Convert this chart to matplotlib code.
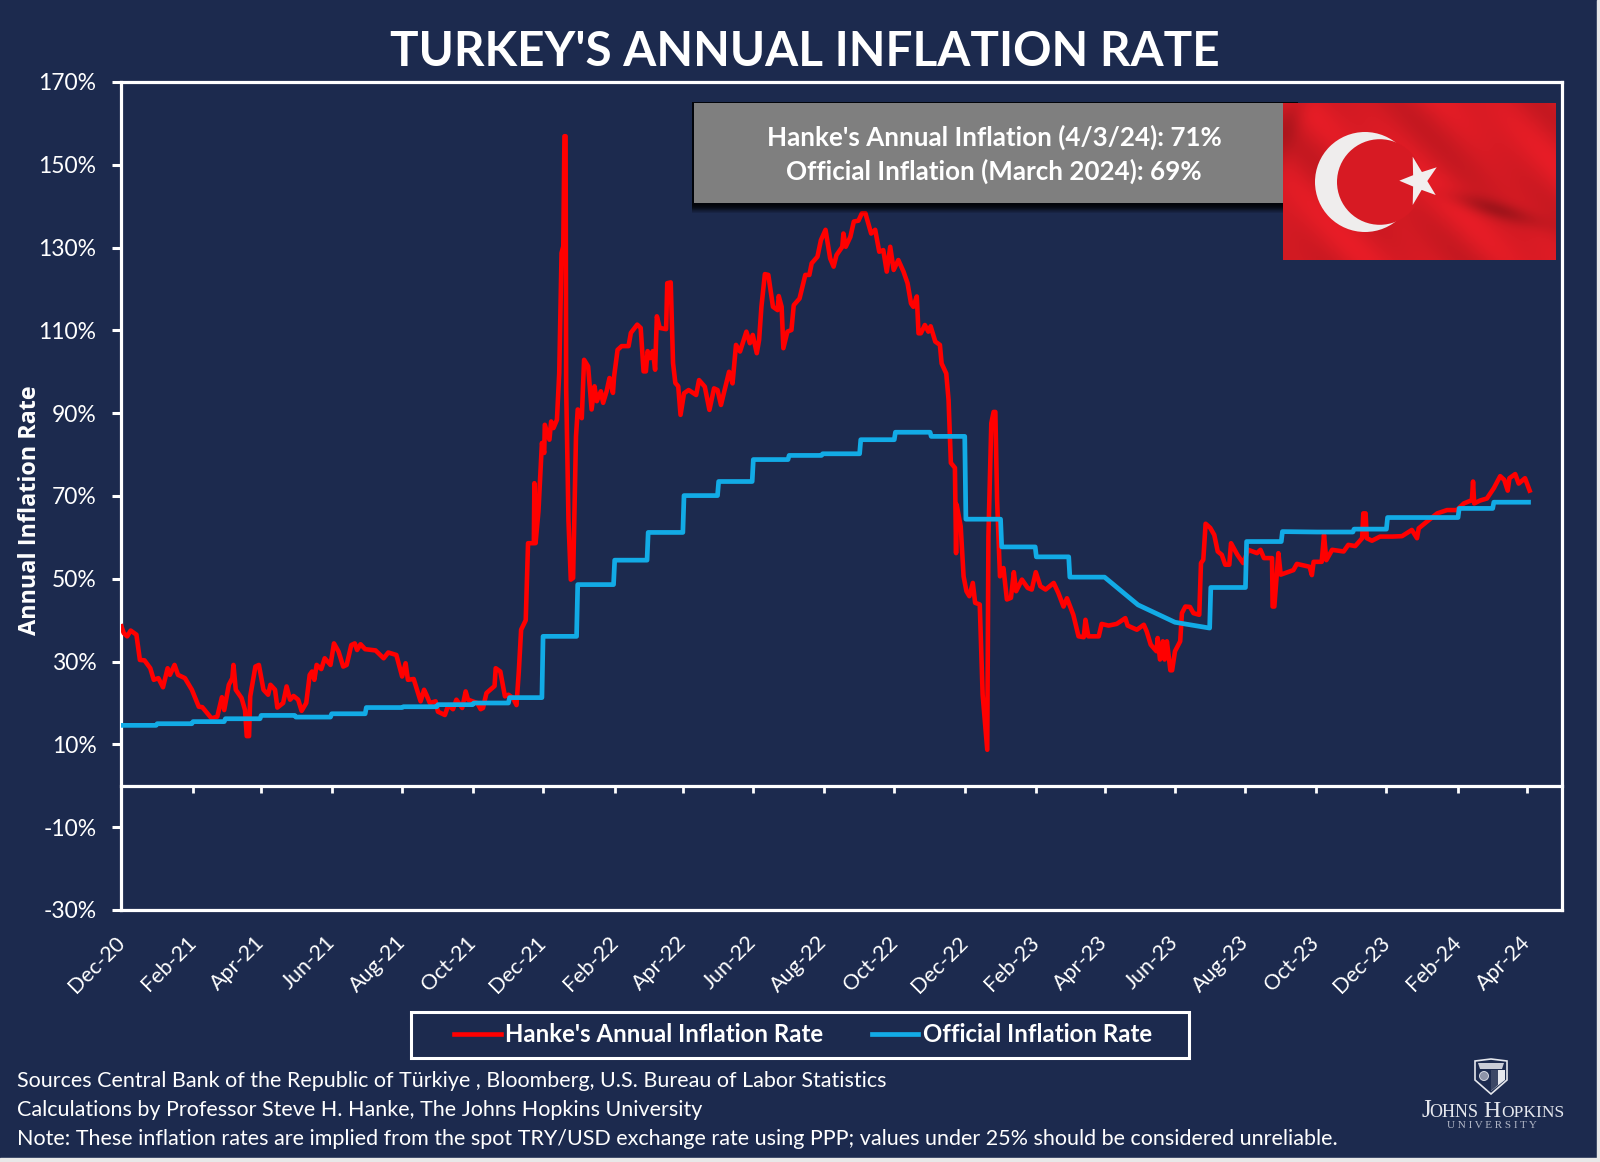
import numpy as np
import pandas as pd
import matplotlib
matplotlib.use('Agg')
import matplotlib.pyplot as plt
import matplotlib.dates as mdates
import matplotlib.transforms as mtransforms
from matplotlib.patches import Rectangle, Circle, Polygon

# chart values
start_date = pd.Timestamp('2020-12-01')

hanke_days = [
    0, 2, 5, 8, 13, 16, 20, 25, 28, 32, 36, 40, 42, 46, 49, 55, 61, 67, 70, 78,
    83, 87, 89, 93, 96, 97, 99, 104, 107, 108.5, 110.5, 111.5, 116, 119, 123, 127, 129, 133, 135, 140,
    143, 146, 149, 153, 156, 160, 163, 165, 167, 169, 173, 176, 181, 184, 188, 192, 195, 199, 202, 204,
    207, 211, 220, 227, 231, 238, 243, 246, 248, 253, 259, 262, 264, 267, 272, 274, 280, 283, 287, 290,
    295, 298, 300, 308, 311, 313, 316, 323, 324, 328, 332, 335, 339, 342, 344, 346, 350, 352, 357, 357.5,
    358.5, 361, 364, 366, 366.5, 370.5, 372, 374, 377, 379, 381, 382.5, 383.5, 384.5, 385, 387, 389, 391, 393.5, 395,
    398.5, 400.5, 404, 407, 409.5, 411.5, 415, 417, 420, 422.5, 425.5, 426.5, 429.5, 433, 439, 441, 446.5, 449.5, 452, 454,
    455.5, 457.5, 460, 462, 463.5, 466, 471.5, 472.5, 475.5, 477.5, 479.5, 482, 484, 487, 491, 497.5, 500, 505, 509, 513,
    516, 519, 526, 529, 532, 535.5, 541, 544, 546.5, 550, 552, 554, 557, 560, 564, 568, 569, 571.5, 573, 576.5,
    580, 582, 587, 592, 595.5, 597.5, 602.5, 605.5, 609.5, 613.5, 616.5, 619, 624, 625, 627, 631, 634, 638, 641, 644,
    649, 652.5, 656, 659.5, 662.5, 665.5, 668.5, 672.5, 677, 680.5, 683.5, 685.5, 688.5, 690, 692, 695.5, 698.5, 700.5, 704.5, 708.5,
    710, 714, 716, 718, 721.5, 722.5, 723, 726.5, 729, 731.5, 734, 737, 739, 743, 745.5, 749.5, 750.5, 753, 755, 756.5,
    758, 760.5, 763.5, 766.5, 770, 772.5, 774.5, 779.5, 784.5, 788, 791.5, 795.5, 800, 807, 811, 815.5, 818.5, 824, 828.5, 833,
    834.5, 837, 846, 848.5, 854.5, 861.5, 869, 871, 879, 885, 887.5, 891, 896, 897, 899, 901.5, 903, 905, 908, 909.5,
    912, 916.5, 918, 921, 925, 928, 933, 934.5, 936.5, 938.5, 942.5, 946, 949, 952.5, 955.5, 959, 960.5, 966, 971, 975.5,
    983, 986, 989, 996, 996.5, 998, 1000, 1001.5, 1003.5, 1014.5, 1017.5, 1028.5, 1030.5, 1032, 1039, 1041, 1043, 1048, 1058, 1062,
    1068, 1074, 1075, 1077, 1078, 1082.5, 1089.5, 1100, 1108.5, 1117, 1121.5, 1123, 1130, 1139, 1147.5, 1156, 1162, 1169, 1170, 1171,
    1176, 1182, 1188, 1193.5, 1197, 1200, 1201.5, 1206.5, 1209.5, 1215, 1219,
]
hanke_rate = [
    38.5, 36.9, 36.1, 37.5, 36.5, 30.4, 30.3, 28.4, 25.6, 26, 23.8, 28.4, 26.8, 29.2, 26.8, 26, 23.2, 19.1, 19, 16.3,
    16.7, 21.4, 18.3, 24.4, 26, 29.2, 23.2, 21.2, 18.3, 12, 12, 21.6, 28.8, 29.2, 23.2, 22, 24.4, 23.2, 18.9, 20,
    24, 20.8, 21.7, 20.8, 18.1, 20, 26.8, 27.6, 25.6, 29.2, 28.2, 30.8, 29.2, 34.4, 32.4, 28.8, 29.2, 34, 34.4, 32.8,
    34.2, 33, 32.7, 30.8, 32.2, 31.6, 26.4, 29.6, 25.6, 25.8, 20.4, 23.2, 22, 20, 20.4, 17.9, 17.1, 19.5, 18.5, 20.8,
    18.8, 22.8, 20.8, 20, 18.5, 18.8, 22.4, 24.1, 28.4, 27.6, 21.6, 22, 21.2, 19.5, 27.6, 37.7, 40, 58.6, 58.6, 73.1,
    58.6, 66.3, 82.8, 80.4, 87.2, 83.6, 88, 86.4, 88.4, 99.7, 128.7, 130.3, 156.9, 156.9, 96, 64, 49.8, 50.2, 84.4, 90.9,
    88.8, 102.9, 101.3, 90.9, 96.5, 92.9, 95.3, 92.5, 95.3, 98.5, 94.9, 98.9, 105.3, 106.2, 106.2, 109.4, 111.4, 110.6, 100.1, 100.1,
    105, 103.3, 105, 100.5, 113.4, 110.6, 110.3, 121.4, 121.6, 102.1, 97.3, 96.5, 89.6, 94.8, 95.6, 94.4, 98, 96.4, 90.8, 96,
    95.6, 92, 100, 97.2, 106.5, 104.9, 109.7, 106.9, 108.9, 104.5, 107.7, 115.7, 123.6, 123.4, 115.7, 114.9, 118.3, 115.7, 105.7, 109.7,
    110.1, 116.1, 117.7, 123.4, 123.4, 126.2, 127.8, 131.8, 134.3, 127.4, 125.4, 128.2, 130.2, 133.4, 130.2, 132.6, 136.3, 136.5, 138.3, 138.3,
    133.4, 134.3, 129, 129.4, 124.2, 130.2, 124.6, 127, 124.2, 121.4, 116.5, 115.7, 118.2, 109.3, 109.3, 111.3, 109.7, 111, 107.3, 106.5,
    102, 99.6, 93.2, 78, 76.8, 56.2, 67.9, 62.7, 50.6, 47, 45.8, 49, 44.2, 43.8, 22, 8.7, 60.3, 87.6, 90.3, 90.3,
    69.1, 50.6, 52.6, 45, 45.4, 51.6, 47, 49.8, 47.8, 47.4, 51.6, 48.2, 47.4, 49, 46.6, 43.3, 45.3, 41.3, 36.1, 35.9,
    40.1, 36.1, 36.1, 39.1, 38.7, 39.1, 40.5, 38.7, 37.7, 38.9, 37.3, 34.1, 32.5, 35.7, 30.5, 34.9, 30.5, 34.9, 27.9, 27.9,
    32.5, 34.9, 41.7, 43.3, 43.2, 41.7, 41.3, 53.8, 54.6, 63.3, 62.3, 60.6, 56.6, 55.8, 53.4, 53.4, 58.6, 55.8, 53.8, 57,
    56.2, 57, 55, 55, 43.3, 43.3, 50.6, 56.2, 51, 52.1, 53.6, 52.9, 50.9, 54.1, 54.1, 60.6, 54.5, 57, 56.6, 58.2,
    57.9, 59.8, 65.8, 65.8, 59.8, 59.2, 60.2, 60.2, 60.3, 61.8, 59.8, 62.2, 63.8, 65.8, 66.6, 66.6, 68.2, 69, 73.5, 68.2,
    68.9, 69.4, 71.9, 74.8, 73.9, 71.3, 74.3, 75.3, 73, 74.3, 71.3,
]

official_days = [
    0, 30, 31, 61, 62, 89, 90, 120, 121, 150, 151, 181, 182, 211, 212, 243, 244, 273, 274, 304,
    305, 335, 336, 364, 365, 394, 395, 426, 427, 455, 456, 486, 487, 516, 517, 546, 547, 577, 578, 606,
    607, 639, 640, 669, 670, 700, 701, 730, 731, 761, 762, 791, 792, 820, 821, 851, 880, 912, 942, 943,
    973, 974, 1004, 1005, 1035, 1066, 1067, 1095, 1096, 1157, 1158, 1187, 1188, 1218,
]
official_rate = [
    14.6, 14.6, 15, 15, 15.5, 15.5, 16.2, 16.2, 17, 17, 16.6, 16.6, 17.4, 17.4, 18.9, 18.9, 19.1, 19.1, 19.6, 19.6,
    20, 20, 21.3, 21.3, 36.1, 36.1, 48.6, 48.6, 54.5, 54.5, 61.2, 61.2, 70.1, 70.1, 73.5, 73.5, 78.8, 78.8, 79.8, 79.8,
    80.2, 80.2, 83.6, 83.6, 85.4, 85.4, 84.4, 84.4, 64.4, 64.4, 57.7, 57.7, 55.3, 55.3, 50.4, 50.4, 43.7, 39.5, 38.1, 47.9,
    47.9, 59, 59, 61.4, 61.3, 61.3, 62, 62, 64.8, 64.8, 67, 67, 68.5, 68.5,
]

y_ticks = [-30, -10, 10, 30, 50, 70, 90, 110, 130, 150, 170]

title_text = "TURKEY'S ANNUAL INFLATION RATE"
box_lines = ["Hanke's Annual Inflation (4/3/24): 71%", "Official Inflation (March 2024): 69%"]
footer_lines = [
    "Sources Central Bank of the Republic of Türkiye , Bloomberg, U.S. Bureau of Labor Statistics",
    "Calculations by Professor Steve H. Hanke, The Johns Hopkins University",
    "Note: These inflation rates are implied from the spot TRY/USD exchange rate using PPP; values under 25% should be considered unreliable.",
]

# colours
navy = '#1C2A4E'
red = '#FF0000'
blue = '#12ABE6'
white = '#FFFFFF'

plt.rcParams['font.family'] = ['Lato', 'DejaVu Sans']

W, H = 1600, 1162
fig = plt.figure(figsize=(W / 100, H / 100), dpi=100, facecolor=navy)

# main axes, placed in pixels
ax_left, ax_right, ax_top, ax_bottom = 121.4, 1562, 82, 910
ax = fig.add_axes([ax_left / W, 1 - ax_bottom / H, (ax_right - ax_left) / W, (ax_bottom - ax_top) / H])
ax.set_facecolor(navy)

hanke_dates = start_date + pd.to_timedelta(hanke_days, unit='D')
official_dates = start_date + pd.to_timedelta(official_days, unit='D')

ax.plot(hanke_dates, hanke_rate, color=red, lw=3.3, solid_joinstyle='round',
        label="Hanke's Annual Inflation Rate", zorder=3)
ax.plot(official_dates, official_rate, color=blue, lw=3.4, solid_joinstyle='round',
        label='Official Inflation Rate', zorder=4)

ax.set_xlim(start_date, pd.Timestamp('2024-05-01'))
ax.set_ylim(-30, 170)

# x axis sits on the zero line, its labels stay at the bottom
for side in ['left', 'right', 'top', 'bottom']:
    ax.spines[side].set_color(white)
    ax.spines[side].set_linewidth(2.3)
ax.spines['bottom'].set_position(('data', 0))
ax.axhline(-30, color=white, lw=2.3, clip_on=False, zorder=2)

ax.set_xticks(pd.date_range(start_date, '2024-04-01', freq='2MS'))
ax.xaxis.set_major_formatter(mdates.DateFormatter('%b-%y'))
ax.tick_params(axis='x', length=5, width=2, color=white, labelcolor=white, labelsize=15.5, pad=100.5)
label_shift = mtransforms.ScaledTranslation(-7 / 100, 0, fig.dpi_scale_trans)
for lab in ax.get_xticklabels():
    lab.set_rotation(45)
    lab.set_rotation_mode('anchor')
    lab.set_ha('right')
    lab.set_va('top')
    lab.set_transform(lab.get_transform() + label_shift)

ax.set_yticks(y_ticks)
ax.set_yticklabels([f'{v}%' for v in y_ticks])
ax.tick_params(axis='y', length=6.5, width=2.2, color=white, labelcolor=white, labelsize=16.5, pad=11.5)

ax.set_ylabel('Annual Inflation Rate', color=white, fontsize=16.8, fontweight='bold', family=['Open Sans'])
ax.yaxis.set_label_coords(-0.055, 0.483)

leg = ax.legend(loc='center', bbox_to_anchor=(803 / W, 1 - 1034.5 / H), bbox_transform=fig.transFigure,
                ncol=2, frameon=False, prop={'weight': 'bold', 'size': 17.3}, labelcolor=white, borderaxespad=0,
                handlelength=1.95, handletextpad=0.2, columnspacing=2.0, borderpad=0)

# overlay in pixel coordinates for everything around the chart
over = fig.add_axes([0, 0, 1, 1], zorder=5)
over.patch.set_alpha(0)
over.axis('off')

# flag shading, folds running across the cloth
fx0, fx1, fy0, fy1 = 1283, 1556, 103, 260
xx, yy = np.meshgrid(np.linspace(0, 1, 273), np.linspace(0, 1, 157))
shade = 1 + 0.05 * np.sin(11 * xx - 9 * yy + 0.6) + 0.03 * np.sin(25 * xx - 12 * yy)
shade -= 0.22 * np.exp(-(((xx - 0.78) / 0.16) ** 2 + ((yy - 0.68 - 0.5 * (xx - 0.78)) / 0.06) ** 2))
shade -= 0.12 * np.exp(-((xx + 0.25 * yy - 0.05) / 0.05) ** 2)
flag_img = np.clip(np.dstack([0.84 * shade, 0.105 * shade, 0.14 * shade]), 0, 1)
over.imshow(flag_img, extent=(fx0, fx1, fy1, fy0), aspect='auto', zorder=6, interpolation='bilinear')

over.set_xlim(0, W)
over.set_ylim(H, 0)

# white edge of the original screenshot
over.add_patch(Rectangle((1597, 0), 3, H, color='#E8E8E8', zorder=1))
over.add_patch(Rectangle((0, 1158), W, 4, color='#E8E8E8', zorder=1))

over.text(805, 52, title_text, color=white, fontsize=34.3, fontweight='bold', ha='center', va='center')

# grey box with its shadow
for k in range(9):
    over.add_patch(Rectangle((692, 102), 606, 103 + k, color='black', alpha=0.22 if k < 6 else 0.12, lw=0, zorder=3))
over.add_patch(Rectangle((694, 103), 600, 100, color='#7F7F7F', lw=0, zorder=4))
over.text(994, 137, box_lines[0], color=white, fontsize=18.7, fontweight='bold', ha='center', va='center', zorder=5)
over.text(994, 171, box_lines[1], color=white, fontsize=18.7, fontweight='bold', ha='center', va='center', zorder=5)

# legend frame
over.add_patch(Rectangle((410.5, 1012), 778, 45.5, facecolor='none', edgecolor=white, lw=2.2))

# crescent and star on the flag
over.add_patch(Circle((1365, 182), 50, color='#EFEDED', lw=0, zorder=7))
over.add_patch(Circle((1379.8, 182), 42.8, color='#D71A23', lw=0, zorder=8))
star_tips = np.array([(1412.7, 156.7), (1436.7, 167.3), (1435.7, 195), (1412.7, 205), (1399.3, 180.7)])
star_mid = star_tips.mean(axis=0)
star_pts = []
for i in range(5):
    star_pts.append(star_tips[i])
    star_pts.append(star_mid + 0.47 * ((star_tips[i] + star_tips[(i + 1) % 5]) / 2 - star_mid))
over.add_patch(Polygon(star_pts, color='#F2EEEE', lw=0, zorder=9))

# footer
for i, line in enumerate(footer_lines):
    over.text(17, 1081 + i * 29, line, color=white, fontsize=15.5, ha='left', va='center')

# Johns Hopkins mark
shield = [(1475, 1061), (1491, 1059), (1507, 1061), (1507, 1080), (1491, 1094), (1475, 1080)]
over.add_patch(Polygon(shield, facecolor=navy, edgecolor='#E4E6EC', lw=1.2))
over.add_patch(Polygon([(1478, 1063), (1504, 1063), (1502, 1069), (1480, 1069)], color='#C9CCD6', lw=0))
over.add_patch(Circle((1484, 1076), 4.5, facecolor='#8E94A8', edgecolor='#E4E6EC', lw=0.6))
over.add_patch(Polygon([(1491, 1070), (1505, 1070), (1505, 1080), (1491, 1091)], color='#E4E6EC', lw=0))
over.add_patch(Polygon([(1491, 1070), (1498, 1070), (1498, 1085), (1491, 1091)], color='#3B4766', lw=0))
logo_color = '#E6E8EE'
for x_pos, txt, size in [(1421, 'J', 18), (1429, 'OHNS', 13), (1483, 'H', 17), (1501, 'OPKINS', 12.5)]:
    over.text(x_pos, 1117, txt, color=logo_color, fontsize=size, family=['Liberation Serif'], ha='left', va='baseline')
over.text(1491.5, 1126, 'U N I V E R S I T Y', color='#B4B9C8', fontsize=8, family=['Liberation Serif'],
          ha='center', va='center')

fig.savefig('out.png', dpi=100, facecolor=navy)
